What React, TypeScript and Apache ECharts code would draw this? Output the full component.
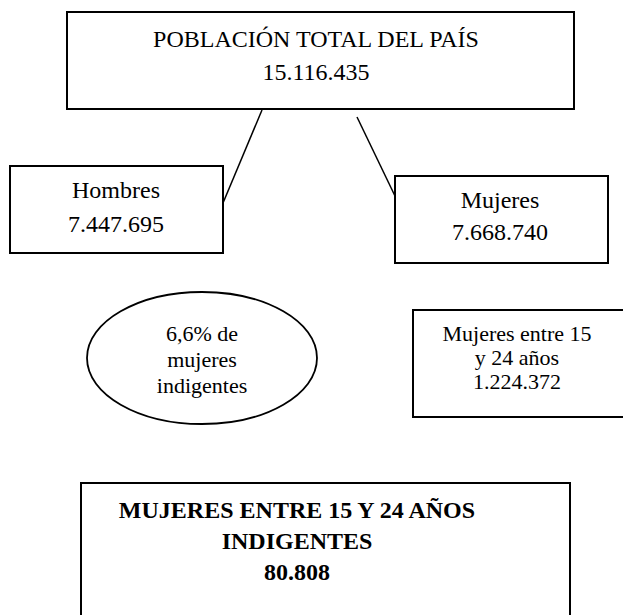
import React, { useEffect, useRef } from "react";
import * as echarts from "echarts";

// ---- Data (text content of each node) ----
const totalLines = ["POBLACIÓN TOTAL DEL PAÍS", "15.116.435"];
const hombresLines = ["Hombres", "7.447.695"];
const mujeresLines = ["Mujeres", "7.668.740"];
const indigentesLines = ["6,6% de", "mujeres", "indigentes"];
const jovenesLines = ["Mujeres entre 15", "y 24 años", "1.224.372"];
const resultadoLines = ["MUJERES ENTRE 15 Y 24 AÑOS", "INDIGENTES", "80.808"];

const FONT = '"Liberation Serif", "Times New Roman", serif';

function textLines(lines: string[], cx: number, firstMid: number, step: number, size: number, bold = false) {
  return lines.map((t, i) => ({
    type: "text",
    silent: true,
    x: cx,
    y: firstMid + i * step,
    style: {
      text: t,
      fill: "#000",
      font: `${bold ? "bold " : ""}${size}px ${FONT}`,
      align: "center",
      verticalAlign: "middle",
    },
  }));
}

function box(x: number, y: number, w: number, h: number) {
  return {
    type: "rect",
    silent: true,
    shape: { x, y, width: w, height: h },
    style: { fill: "#fff", stroke: "#000", lineWidth: 2 },
  };
}

function link(x1: number, y1: number, x2: number, y2: number) {
  return {
    type: "line",
    silent: true,
    shape: { x1, y1, x2, y2 },
    style: { stroke: "#000", lineWidth: 1.5 },
  };
}

export default function App() {
  const ref = useRef<HTMLDivElement>(null);
  useEffect(() => {
    if (!ref.current) return;
    const chart = echarts.init(ref.current, null, { renderer: "svg" });
    const elements: any[] = [
      box(67, 12, 507, 97),
      ...textLines(totalLines, 316, 39, 33, 24),
      link(262, 110, 223, 203),
      link(357, 117, 395, 196),
      box(10, 166, 213, 87),
      ...textLines(hombresLines, 116, 190, 34, 24),
      box(395, 176, 213, 87),
      ...textLines(mujeresLines, 500, 200, 32, 24),
      {
        type: "ellipse",
        silent: true,
        shape: { cx: 202, cy: 358, rx: 115, ry: 66 },
        style: { fill: "#fff", stroke: "#000", lineWidth: 1.8 },
      },
      ...textLines(indigentesLines, 202, 333, 26, 22),
      box(413, 310, 215, 107),
      ...textLines(jovenesLines, 517, 333, 24, 22),
      box(81, 483, 489, 200),
      ...textLines(resultadoLines, 297, 510, 31, 24, true),
    ];
    chart.setOption({
      animation: false,
      backgroundColor: "#fff",
      graphic: { elements },
    });
    return () => chart.dispose();
  }, []);
  return (
    <div
      ref={ref}
      style={{ position: "fixed", left: 0, top: 0, width: 623, height: 615, background: "#fff" }}
    />
  );
}
